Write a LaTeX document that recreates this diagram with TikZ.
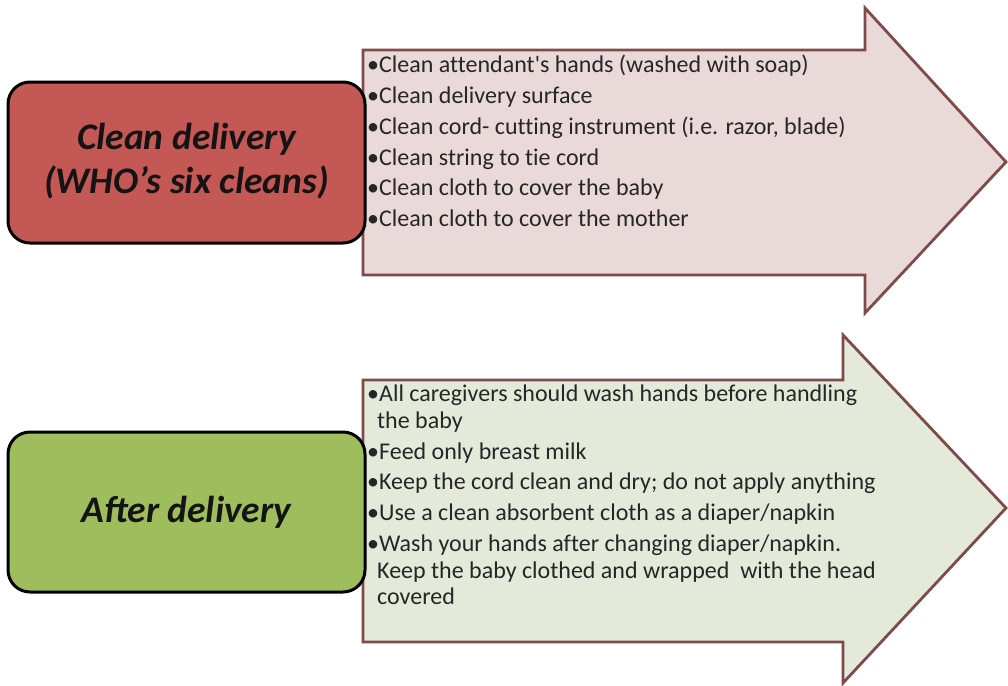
\documentclass[tikz,border=0pt]{standalone}
\usepackage{fontspec}
\setmainfont{Carlito}
\newfontfamily\itemfont{Carlito}[Ligatures={ResetAll,NoCommon}]
\definecolor{boxred}{RGB}{195,88,84}
\definecolor{boxgreen}{RGB}{158,189,93}
\definecolor{arrowpink}{RGB}{234,217,217}
\definecolor{arrowgreen}{RGB}{227,234,218}
\definecolor{arrowline}{RGB}{128,74,74}
\definecolor{itemtext}{RGB}{38,38,38}
\tikzset{
  arrowshape/.style={draw=arrowline, line width=2.8pt, line join=miter},
  headbox/.style={draw=black, line width=3pt, rounded corners=22pt, align=center,
    minimum width=357pt, minimum height=161pt, inner sep=0pt,
    font=\fontsize{37.5}{44}\selectfont\bfseries\itshape, text=black!92},
  itemlist/.style={anchor=north west, align=left, inner sep=0pt, text=itemtext,
    font=\itemfont\fontsize{24}{26.5}\selectfont}
}
\begin{document}
\begin{tikzpicture}[x=1pt,y=-1pt]
\useasboundingbox (0,0) rectangle (1008,685);
% top arrow
\path[arrowshape, fill=arrowpink] (363,50) -- (865,50) -- (865,8) -- (1006,162) -- (865,313) -- (865,275) -- (363,275) -- cycle;
% bottom arrow
\path[arrowshape, fill=arrowgreen] (363,380) -- (843,380) -- (843,335) -- (1006,508) -- (843,683) -- (843,642) -- (363,642) -- cycle;
% text in arrows
\node[itemlist] (toplist) at (367,55) {%
•Clean attendant's hands (washed with soap)\\[4.3pt]
•Clean delivery surface\\[4.3pt]
•Clean cord- cutting instrument (i.e. razor, blade)\\[4.3pt]
•Clean string to tie cord\\[4.3pt]
•Clean cloth to cover the baby\\[4.3pt]
•Clean cloth to cover the mother};
\node[itemlist] (botlist) at (367,385) {%
•All caregivers should wash hands before handling\\
\hspace*{10pt}the baby\\[4.3pt]
•Feed only breast milk\\[4.3pt]
•Keep the cord clean and dry; do not apply anything\\[4.3pt]
•Use a clean absorbent cloth as a diaper/napkin\\[4.3pt]
•Wash your hands after changing diaper/napkin.\\
\hspace*{10pt}Keep the baby clothed and wrapped\ \ with the head\\
\hspace*{10pt}covered};
% left boxes
\node[headbox, fill=boxred] (clean) at (186.5,162.5) {\raisebox{-2pt}{\begin{tabular}{@{}c@{}}Clean delivery\\[-0.5pt](WHO’s six cleans)\end{tabular}}};
\node[headbox, fill=boxgreen, minimum height=160pt] (after) at (186.5,512) {\raisebox{-2pt}{After delivery}};
\end{tikzpicture}
\end{document}
